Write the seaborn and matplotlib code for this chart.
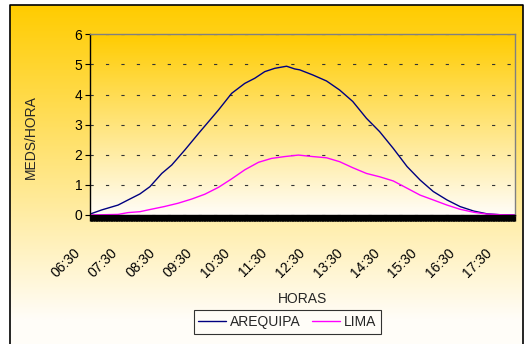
import numpy as np
import pandas as pd
import matplotlib
matplotlib.use("Agg")
import matplotlib.pyplot as plt
import matplotlib.ticker as mticker
from matplotlib.colors import LinearSegmentedColormap
from matplotlib.patches import Rectangle
from matplotlib.lines import Line2D
import seaborn as sns

# lecturas tomadas de la curva (hora, MEDS/HORA)
horas_arequipa = ['06:30', '06:49', '07:15', '07:31', '07:50', '08:06', '08:25', '08:41',
                  '09:02', '09:24', '09:40', '09:56', '10:17', '10:38', '10:54', '11:10',
                  '11:26', '11:45', '11:58', '12:06', '12:27', '12:49', '13:10', '13:31',
                  '13:53', '14:14', '14:36', '14:58', '15:19', '15:40', '16:02', '16:23',
                  '16:45', '17:06', '17:27', '17:50']
arequipa = [0.03, 0.17, 0.33, 0.50, 0.70, 0.94, 1.38, 1.66,
            2.16, 2.71, 3.10, 3.49, 4.04, 4.37, 4.54, 4.76,
            4.87, 4.94, 4.85, 4.82, 4.65, 4.45, 4.15, 3.77,
            3.21, 2.77, 2.21, 1.61, 1.16, 0.78, 0.50, 0.28,
            0.13, 0.04, 0.01, 0.00]
horas_lima = ['06:30', '07:15', '07:31', '07:50', '08:08', '08:29', '08:51', '09:13',
              '09:34', '09:56', '10:17', '10:38', '11:00', '11:21', '11:42', '12:04',
              '12:27', '12:49', '13:10', '13:31', '13:53', '14:14', '14:36', '14:58',
              '15:19', '15:40', '16:02', '16:23', '16:45', '17:06', '17:27', '17:50']
lima = [0.00, 0.02, 0.08, 0.11, 0.19, 0.28, 0.39, 0.53,
        0.69, 0.92, 1.20, 1.50, 1.75, 1.88, 1.94, 1.99,
        1.94, 1.90, 1.77, 1.57, 1.38, 1.27, 1.13, 0.89,
        0.66, 0.50, 0.33, 0.19, 0.09, 0.03, 0.01, 0.00]
etiquetas_x = ['06:30', '07:30', '08:30', '09:30', '10:30', '11:30',
               '12:30', '13:30', '14:30', '15:30', '16:30', '17:30']


def a_minutos(h):
    hh, mm = h.split(':')
    return int(hh) * 60 + int(mm)


df = pd.DataFrame({
    'minuto': [a_minutos(h) for h in horas_arequipa + horas_lima],
    'valor': arequipa + lima,
    'serie': ['AREQUIPA'] * len(arequipa) + ['LIMA'] * len(lima),
})

sns.set_style("white")
plt.rcParams['font.family'] = ['Liberation Sans', 'DejaVu Sans']
plt.rcParams['font.size'] = 10

W, H = 528, 344
fig = plt.figure(figsize=(W / 100, H / 100), dpi=100)
fig.patch.set_facecolor('white')

oro = LinearSegmentedColormap.from_list('oro', ['#FFCC00', '#FFFDF8'])

# fondo del grafico (degradado) con borde negro
bg = fig.add_axes([0, 0, 1, 1], zorder=-2)
bg.set_xlim(0, W)
bg.set_ylim(H, 0)
bg.axis('off')
grad = np.linspace(0, 1, 256).reshape(-1, 1)
bg.imshow(grad, cmap=oro, extent=[10, 523, 320, 5], aspect='auto')
bg.add_patch(Rectangle((10, 320), 513, 30, color='#FFFDF8', lw=0))
bg.plot([10, 10, 523, 523], [H + 2, 5, 5, H + 2], color='black', lw=1.2)

pos = [90 / W, 1 - 215 / H, 425 / W, 180.7 / H]

# area de trazado
pa = fig.add_axes(pos, zorder=-1)
pa.imshow(grad, cmap=oro, extent=[0, 1, 0, 1], aspect='auto')
pa.axis('off')

ax = fig.add_axes(pos)
ax.set_facecolor('none')
sns.lineplot(data=df, x='minuto', y='valor', hue='serie',
             palette={'AREQUIPA': '#000080', 'LIMA': '#FF00FF'},
             linewidth=1.0, ax=ax, legend=False)

ax.set_xlim(390, 1071)
ax.set_ylim(0, 6)
ax.set_yticks(range(7))
ax.yaxis.grid(True, linestyle=(0, (2.9, 11)), color='#333333', linewidth=0.8)
ax.xaxis.grid(False)

ax.xaxis.set_major_locator(mticker.FixedLocator([a_minutos(h) for h in etiquetas_x]))
ax.set_xticklabels(etiquetas_x, rotation=45, ha='right', va='top')
ax.xaxis.set_minor_locator(mticker.MultipleLocator(1))
ax.tick_params(axis='x', which='both', direction='out', length=4.3, width=1.0,
               color='black', bottom=True, pad=18)
ax.tick_params(axis='y', which='major', direction='out', length=3.6, width=0.8,
               color='black', left=True, pad=2)
ax.tick_params(labelsize=10, labelcolor='black')
offset = matplotlib.transforms.ScaledTranslation(-7 / 100, 0, fig.dpi_scale_trans)
for lbl in ax.get_xticklabels():
    lbl.set_transform(lbl.get_transform() + offset)

for lado in ['left', 'bottom']:
    ax.spines[lado].set_color('black')
    ax.spines[lado].set_linewidth(1.0)
for lado in ['top', 'right']:
    ax.spines[lado].set_color('#808080')
    ax.spines[lado].set_linewidth(1.0)
    ax.spines[lado].set_visible(True)

ax.set_xlabel('HORAS', fontsize=10)
ax.set_ylabel('MEDS/HORA', fontsize=10)
ax.xaxis.set_label_coords(0.5, -0.425)
ax.yaxis.set_label_coords(-0.122, 0.432)

handles = [Line2D([], [], color='#000080', lw=1.0),
           Line2D([], [], color='#FF00FF', lw=1.0)]
leg = fig.legend(handles, ['AREQUIPA', 'LIMA'], loc='center', ncol=2,
                 bbox_to_anchor=(287.5 / W, 1 - 322 / H), fontsize=10,
                 frameon=True, fancybox=False, edgecolor='black',
                 handlelength=2.0, handletextpad=0.3, columnspacing=0.8,
                 borderpad=0.35)
leg.get_frame().set_facecolor('#FFFDF8')
leg.get_frame().set_linewidth(0.8)

fig.savefig('out.png', dpi=100)
